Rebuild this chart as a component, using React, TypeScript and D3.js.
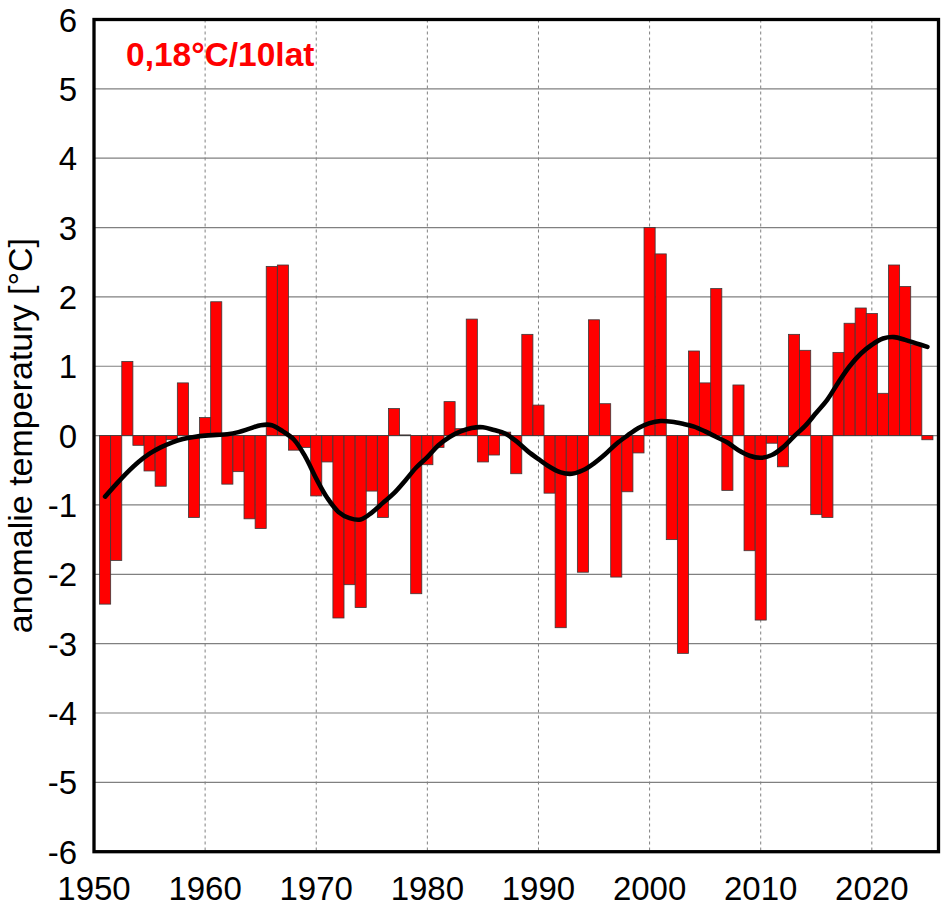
import * as d3 from "d3";

const firstYear = 1951;

const anomalies = [
  -2.43, -1.8, 1.07, -0.14, -0.51, -0.73, -0.06, 0.76, -1.18, 0.26,
  1.93, -0.7, -0.52, -1.2, -1.34, 2.44, 2.46, -0.21, -0.17, -0.87,
  -0.38, -2.63, -2.15, -2.48, -0.8, -1.18, 0.39, 0.01, -2.28, -0.42,
  -0.17, 0.49, 0.1, 1.68, -0.38, -0.28, 0.05, -0.55, 1.46, 0.44,
  -0.83, -2.77, -0.54, -1.97, 1.67, 0.46, -2.04, -0.81, -0.25, 3.0,
  2.62, -1.5, -3.14, 1.22, 0.76, 2.12, -0.79, 0.73, -1.66, -2.66,
  -0.11, -0.45, 1.46, 1.23, -1.14, -1.18, 1.2, 1.62, 1.84, 1.76,
  0.61, 2.46, 2.15, 1.31, -0.06,
];

// smoothed trend line, one value per year
const trend = [
  -0.88, -0.7, -0.53, -0.38, -0.26, -0.17, -0.1, -0.05, -0.02, 0.0,
  0.01, 0.02, 0.05, 0.1, 0.15, 0.15, 0.06, -0.06, -0.3, -0.62,
  -0.9, -1.1, -1.19, -1.21, -1.11, -0.97, -0.83, -0.65, -0.46, -0.31,
  -0.14, -0.02, 0.06, 0.11, 0.12, 0.08, 0.03, -0.08, -0.22, -0.34,
  -0.45, -0.53, -0.55, -0.5, -0.4, -0.27, -0.12, 0.0, 0.11, 0.18,
  0.21, 0.2, 0.17, 0.13, 0.06, -0.02, -0.1, -0.21, -0.29, -0.32,
  -0.28, -0.17, -0.01, 0.14, 0.33, 0.52, 0.77, 1.0, 1.18, 1.31,
  1.4, 1.42, 1.38, 1.33, 1.28,
];

const xTicks = [1950, 1960, 1970, 1980, 1990, 2000, 2010, 2020];
const yTicks = [-6, -5, -4, -3, -2, -1, 0, 1, 2, 3, 4, 5, 6];

const trendLabel = "0,18°C/10lat";
const yTitle = "anomalie temperatury [°C]";

const W = 945;
const H = 908;
const left = 94;
const right = 938.5;
const top = 19.5;
const bottom = 851.7;
const font = "'Liberation Sans', Arial, sans-serif";

export default function App() {
  const x = d3.scaleLinear().domain([1950, 2026]).range([left, right]);
  const y = d3.scaleLinear().domain([-6, 6]).range([bottom, top]);

  const data = anomalies.map((v, i) => ({ year: firstYear + i, v, t: trend[i] }));

  const line = d3
    .line<{ year: number; t: number }>()
    .x((d) => x(d.year))
    .y((d) => y(d.t))
    .curve(d3.curveCatmullRom.alpha(0.5));

  return (
    <svg
      width={W}
      height={H}
      style={{ position: "absolute", left: 0, top: 0, background: "#fff" }}
    >
      {/* horizontal grid */}
      {yTicks.map((t) => (
        <line key={"h" + t} x1={left} x2={right} y1={y(t)} y2={y(t)} stroke="#808080" strokeWidth={1.2} />
      ))}
      {/* vertical dashed grid */}
      {xTicks.slice(1).map((t) => (
        <line
          key={"v" + t}
          x1={x(t)}
          x2={x(t)}
          y1={top}
          y2={bottom}
          stroke="#808080"
          strokeWidth={1}
          strokeDasharray="3,3"
        />
      ))}

      {data.map((d) => (
        <rect
          key={d.year}
          x={x(d.year - 0.5)}
          width={x(d.year + 0.5) - x(d.year - 0.5)}
          y={y(Math.max(0, d.v))}
          height={Math.abs(y(d.v) - y(0))}
          fill="#ff0000"
          stroke="#3a3a3a"
          strokeWidth={0.8}
        />
      ))}

      <path d={line(data) || ""} fill="none" stroke="#000" strokeWidth={4.6} strokeLinecap="round" />

      <rect x={left} y={top} width={right - left} height={bottom - top} fill="none" stroke="#000" strokeWidth={3.3} />

      {yTicks.map((t) => (
        <text key={"yl" + t} x={77} y={y(t) + 12} textAnchor="end" fontFamily={font} fontSize={33} fill="#000">
          {t}
        </text>
      ))}
      {xTicks.map((t) => (
        <text key={"xl" + t} x={x(t)} y={900} textAnchor="middle" fontFamily={font} fontSize={33} fill="#000">
          {t}
        </text>
      ))}

      <text
        transform={`translate(32,${(top + bottom) / 2}) rotate(-90)`}
        textAnchor="middle"
        fontFamily={font}
        fontSize={34}
        fill="#000"
      >
        {yTitle}
      </text>

      <text x={126} y={65.5} fontFamily={font} fontSize={33.5} fontWeight="bold" fill="#ff0000">
        {trendLabel}
      </text>
    </svg>
  );
}
